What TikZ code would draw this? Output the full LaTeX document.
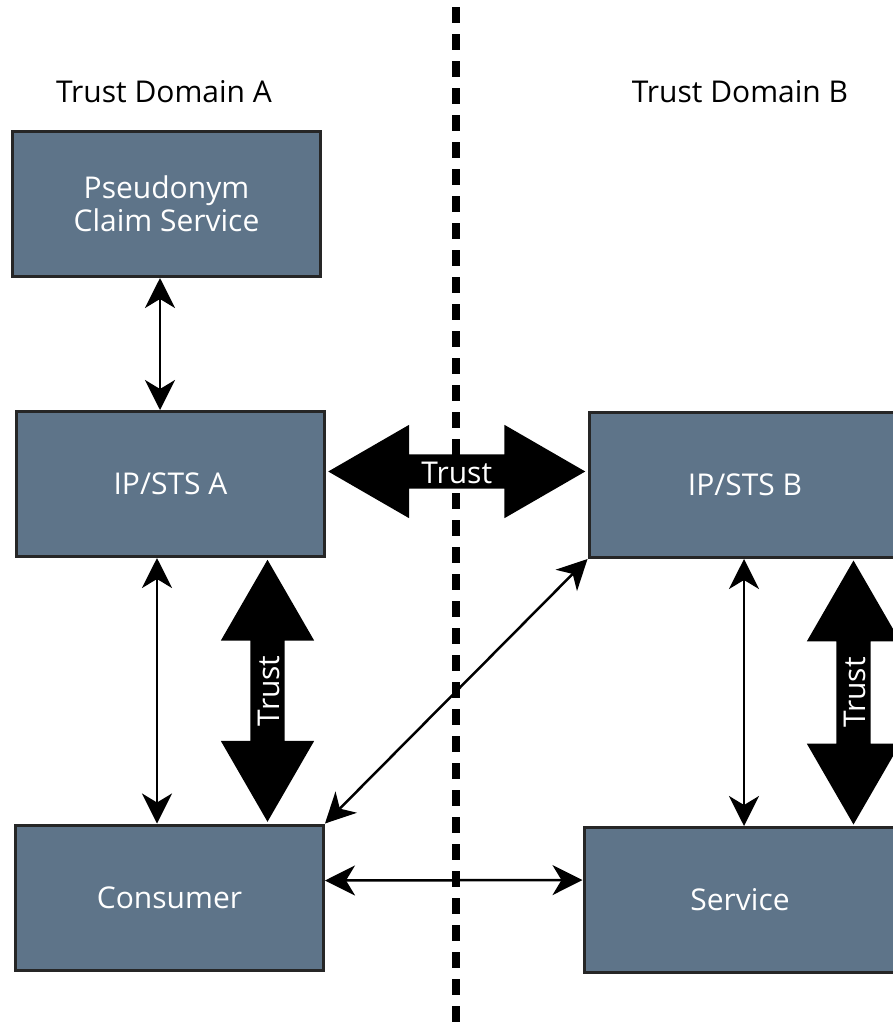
\documentclass[tikz,border=0pt]{standalone}
\usepackage{fontspec}
\setmainfont{Open Sans}
\usetikzlibrary{shapes.arrows, arrows.meta, calc}

\definecolor{boxblue}{HTML}{5E7489}
\definecolor{boxline}{HTML}{262626}

\begin{document}
\begin{tikzpicture}[
        x=1pt, y=-1pt,
        box/.style={draw=boxline, line width=3pt, fill=boxblue, text=white, align=center,
                    minimum width=308pt, minimum height=145pt, font=\fontsize{30}{33}\selectfont},
        domain_label/.style={font=\fontsize{30}{34}\selectfont},
        link/.style={{Stealth[length=30pt, width=30pt, inset=9pt]}-{Stealth[length=30pt, width=30pt, inset=9pt]}, line width=2.5pt},
        trust_arrow/.style={double arrow, fill=black, text=white, inner sep=0pt, inner ysep=5.5pt,
                    text height=23pt, text depth=0pt, double arrow head extend=29.5pt,
                    double arrow tip angle=60, font=\fontsize{30}{32}\selectfont},
        divider/.style={line width=8pt, dash pattern=on 16pt off 11pt}
    ]
    \path[use as bounding box, clip] (0,0) rectangle (893,1028);

    % --- divider between the domains ---
    \coordinate (div_top) at (456,7);
    \coordinate (div_bot) at (456,1028);
    \draw[divider] (div_top) -- (div_bot);

    % --- Trust Domain A ---
    \node[domain_label] (lbl_a) at (164,92) {Trust Domain A};
    \node[box] (psc) at (166.5,204) {Pseudonym\\Claim Service};
    \node[box] (ipa) at (170.5,484) {IP/STS A};
    \node[box] (con) at (169.5,897.5) {Consumer};

    % --- Trust Domain B ---
    \node[domain_label] (lbl_b) at (740,92) {Trust Domain B};
    \node[box, minimum width=312pt] (ipb) at (745,485) {IP/STS B};
    \node[box, minimum width=312pt] (svc) at (740,900) {Service};

    % --- thin links ---
    \draw[link] ([xshift=-6.5pt]psc.south) -- ([xshift=-10.5pt]ipa.north);
    \draw[link] ([xshift=-13.5pt]ipa.south) -- ([xshift=-12.5pt]con.north);
    \draw[link] (con.north east) -- (ipb.south west);
    \draw[link] ([yshift=17pt]con.east) -- ([yshift=20pt]svc.west);
    \draw[link] ([xshift=-1pt]ipb.south) -- ([xshift=4pt]svc.north);

    % --- trust relations ---
    \node[trust_arrow, minimum height=257pt] (trust_ab) at ($(ipa.east)!.5!(ipb.west)+(0,-13)$) {Trust};
    \node[trust_arrow, minimum height=262pt, rotate=90] (trust_a) at ($(ipa.south)!.5!(con.north)+(97.5,0)$) {Trust};
    \node[trust_arrow, minimum height=264pt, rotate=90] (trust_b) at ($(ipb.south)!.5!(svc.north)+(111,0)$) {Trust};

\end{tikzpicture}
\end{document}
